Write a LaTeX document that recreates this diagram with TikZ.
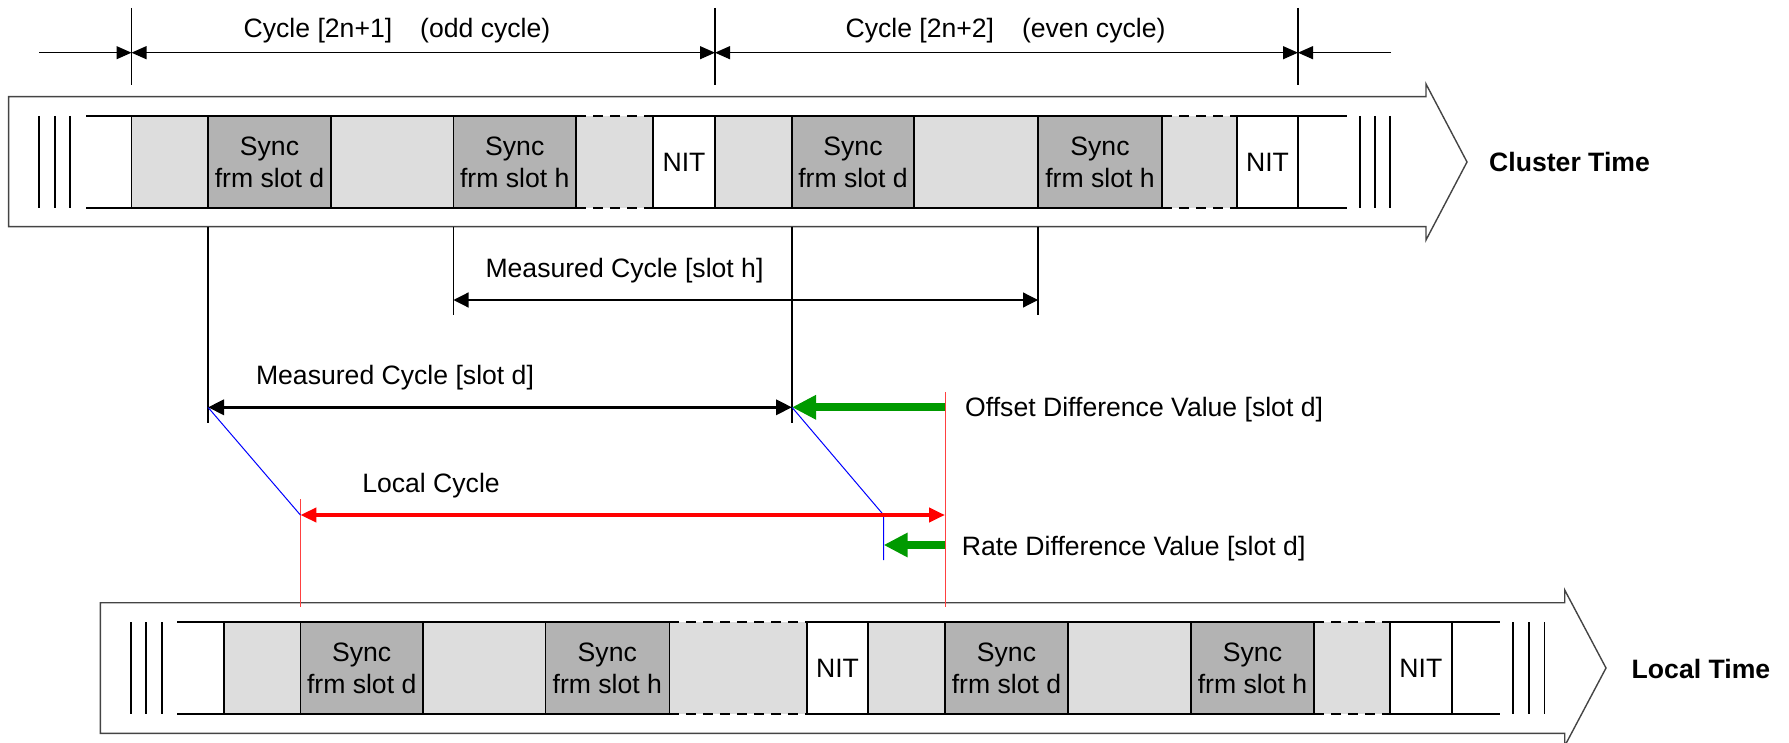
\documentclass[tikz,border=0pt]{standalone}
\usepackage{fontspec}
\setmainfont{Liberation Sans}
\usetikzlibrary{arrows.meta}

\definecolor{lightgp}{HTML}{DDDDDD}
\definecolor{syncgp}{HTML}{B3B3B3}
\definecolor{framegp}{HTML}{444444}
\definecolor{offgreen}{HTML}{009A00}
\newcommand{\figfont}{\fontsize{26.6}{32}\selectfont}

\begin{document}
\begin{tikzpicture}[x=1pt,y=-1pt]
    \useasboundingbox (0,0) rectangle (1789,743);
    \begin{scope}[all/.style={draw,line width=1.6pt,inner sep=0pt,outer sep=0pt,minimum height=92pt,font=\figfont,align=center},
                  gap/.style={fill=lightgp,inner sep=0pt,outer sep=0pt,minimum height=92pt},
                  lbl/.style={font=\figfont,inner sep=0pt},
                  frm/.style={framegp,line width=1.4pt},
                  band/.style={line width=1.8pt}]
        \draw[frm] (8.6,96.7) -- (1426,96.7) -- (1426,84) -- (1467,162) -- (1426,240) -- (1426,226.7) -- (8.6,226.7) -- cycle;
        \draw[frm] (100.4,602.7) -- (1564.7,602.7) -- (1564.7,590) -- (1606,668) -- (1564.7,746) -- (1564.7,733.3) -- (100.4,733.3) -- cycle;
        \foreach \x in {39,55,70,1360,1375,1390} \draw[band] (\x,116) -- (\x,208);
        \foreach \x in {131,146.3,161.6,1513,1528.7,1544.5} \draw[band] (\x,622) -- (\x,714);

        \node[gap,minimum width=77pt] (ce1) at (614.5,162) {};
        \node[gap,minimum width=75pt] (ce2) at (1199.5,162) {};
        \node[all,fill=lightgp,minimum width=76.5pt] (cl1) at (169.75,162) {};
        \node[all,fill=syncgp,minimum width=123pt] (cd1) at (269.5,162) {Sync\\frm slot d};
        \node[all,fill=lightgp,minimum width=122.5pt] (cm1) at (392.25,162) {};
        \node[all,fill=syncgp,minimum width=122.5pt] (ch1) at (514.75,162) {Sync\\frm slot h};
        \node[all,fill=white,minimum width=62pt] (cn1) at (684,162) {NIT};
        \node[all,fill=lightgp,minimum width=77pt] (cl2) at (753.5,162) {};
        \node[all,fill=syncgp,minimum width=122pt] (cd2) at (853,162) {Sync\\frm slot d};
        \node[all,fill=lightgp,minimum width=124pt] (cm2) at (976,162) {};
        \node[all,fill=syncgp,minimum width=124pt] (ch2) at (1100,162) {Sync\\frm slot h};
        \node[all,fill=white,minimum width=61pt] (cn2) at (1267.5,162) {NIT};

        \node[gap,minimum width=137.7pt] (le1) at (738.15,668) {};
        \node[gap,minimum width=76pt] (le2) at (1352,668) {};
        \node[all,fill=lightgp,minimum width=76.4pt] (ll1) at (262.2,668) {};
        \node[all,fill=syncgp,minimum width=122.6pt] (ld1) at (361.7,668) {Sync\\frm slot d};
        \node[all,fill=lightgp,minimum width=122.3pt] (lm1) at (484.15,668) {};
        \node[all,fill=syncgp,minimum width=124pt] (lh1) at (607.3,668) {Sync\\frm slot h};
        \node[all,fill=white,minimum width=61pt] (ln1) at (837.5,668) {NIT};
        \node[all,fill=lightgp,minimum width=77pt] (ll2) at (906.5,668) {};
        \node[all,fill=syncgp,minimum width=123pt] (ld2) at (1006.5,668) {Sync\\frm slot d};
        \node[all,fill=lightgp,minimum width=123pt] (lm2) at (1129.5,668) {};
        \node[all,fill=syncgp,minimum width=123pt] (lh2) at (1252.5,668) {Sync\\frm slot h};
        \node[all,fill=white,minimum width=61.7pt] (ln2) at (1420.85,668) {NIT};

        \draw[band] (86,116) -- (cl1.north west) (86,208) -- (cl1.south west);
        \draw[band] (cn2.north east) -- (1347,116) (cn2.south east) -- (1347,208);
        \draw[band] (177,622) -- (ll1.north west) (177,714) -- (ll1.south west);
        \draw[band] (ln2.north east) -- (1500,622) (ln2.south east) -- (1500,714);
        \begin{scope}[band,dash pattern=on 10pt off 7pt]
        \draw (ce1.north west) -- (ce1.north east) (ce1.south west) -- (ce1.south east);
        \draw (ce2.north west) -- (ce2.north east) (ce2.south west) -- (ce2.south east);
        \draw (le1.north west) -- (le1.north east) (le1.south west) -- (le1.south east);
        \draw (le2.north west) -- (le2.north east) (le2.south west) -- (le2.south east);
        \end{scope}

        \node[lbl,font=\figfont\bfseries,anchor=west] (ct) at (1489,161.7) {Cluster Time};
        \node[lbl,font=\figfont\bfseries,anchor=west] (lt) at (1631.5,669) {Local Time};

        \coordinate (k0) at (39,52.7);
        \coordinate (k1) at (cl1.west |- 0,52.7);
        \coordinate (k2) at (cl2.west |- 0,52.7);
        \coordinate (k3) at (cn2.east |- 0,52.7);
        \coordinate (k4) at (1391,52.7);
        \node[lbl] (codd) at (397,30.5) {Cycle [2n+1]\hspace{1.05em}(odd cycle)};
        \node[lbl] (ceven) at (1005.5,30.5) {Cycle [2n+2]\hspace{1.05em}(even cycle)};
        \begin{scope}[line width=1.2pt]
        \draw (k1) ++(0,-44.7) -- ++(0,77);
        \draw (k2) ++(0,-44.7) -- ++(0,77);
        \draw (k3) ++(0,-44.7) -- ++(0,77);
        \path[-{Triangle[length=15pt,width=13pt]}] (k0) edge (k1);
        \path[{Triangle[length=15pt,width=13pt]}-{Triangle[length=15pt,width=13pt]}] (k1) edge (k2);
        \path[{Triangle[length=15pt,width=13pt]}-{Triangle[length=15pt,width=13pt]}] (k2) edge (k3);
        \path[-{Triangle[length=15pt,width=13pt]}] (k4) edge (k3);
        \end{scope}

        \coordinate (mh1) at (ch1.south west |- 0,300);
        \coordinate (mh2) at (ch2.south west |- 0,300);
        \coordinate (md1) at (cd1.south west |- 0,407.3);
        \coordinate (md2) at (cd2.south west |- 0,407.3);
        \coordinate (lc1) at (ld1.north west |- 0,515);
        \coordinate (lc2) at (ld2.north west |- 0,515);
        \coordinate (lc0) at (883.6,515);
        \coordinate (og) at (ld2.north west |- 0,407.3);
        \coordinate (rg) at (ld2.north west |- 0,545);
        \coordinate (rb) at (lc0 |- 0,545);
        \begin{scope}[line width=1.2pt]
        \draw (cd1.south west |- 0,226.7) -- (cd1.south west |- 0,422.7);
        \draw (cd2.south west |- 0,226.7) -- (cd2.south west |- 0,422.7);
        \draw (ch1.south west |- 0,226.7) -- (mh1) -- ++(0,15);
        \draw (ch2.south west |- 0,226.7) -- (mh2) -- ++(0,15);
        \path[{Triangle[length=15pt,width=15pt]}-{Triangle[length=15pt,width=15pt]}] (mh1) edge (mh2);
        \end{scope}
        \node[lbl] (mhl) at (624.5,270.7) {Measured Cycle [slot h]};
        \node[lbl] (mdl) at (395,377.7) {Measured Cycle [slot d]};
        \node[lbl] (lcl) at (431,486) {Local Cycle};
        \node[lbl,anchor=west] (ofl) at (965,410) {Offset Difference Value [slot d]};
        \node[lbl,anchor=west] (ral) at (961.7,549) {Rate Difference Value [slot d]};

        \begin{scope}[red!75,line width=1pt]
        \draw (ld1.north west |- 0,499) -- (ld1.north west |- 0,606.7);
        \draw (ld2.north west |- 0,392) -- (ld2.north west |- 0,606.7);
        \end{scope}
        \begin{scope}[blue,line width=1pt]
        \draw (md1) -- (lc1);
        \draw (md2) -- (lc0) -- (rb) -- ++(0,15);
        \end{scope}
        \path[line width=3.5pt,{Triangle[length=16pt,width=15pt]}-{Triangle[length=16pt,width=15pt]}] (md1) edge (md2);
        \path[red,line width=4pt,{Triangle[length=16pt,width=14pt]}-{Triangle[length=16pt,width=14pt]}] (lc1) edge (lc2);
        \begin{scope}[offgreen,line width=8pt]
        \path[-{Triangle[length=24pt,width=23pt]}] (og) edge (md2);
        \path[-{Triangle[length=24pt,width=23pt]}] (rg) edge (rb);
        \end{scope}
    \end{scope}
\end{tikzpicture}
\end{document}
